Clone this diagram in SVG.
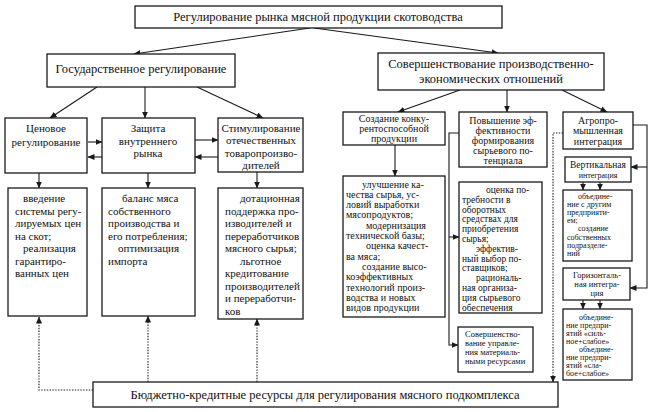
<svg xmlns="http://www.w3.org/2000/svg" width="652" height="412" viewBox="0 0 652 412">
<style>
.box{fill:#fff;stroke:#1a1a1a;stroke-width:1.3}
.ln{fill:none;stroke:#1a1a1a;stroke-width:1.1}
.dot{fill:none;stroke:#1a1a1a;stroke-width:1.1;stroke-dasharray:1.4,1.4}
text{font-family:"Liberation Serif","Times New Roman",serif;fill:#111}
.t12{font-size:12.5px}
.t11{font-size:11px}
.t10{font-size:10px}
.t95{font-size:9.5px}
.t9{font-size:9px}
.t85{font-size:8.5px}
.t8{font-size:8px}
.c{text-anchor:middle}
</style>
<defs>
<marker id="ar" markerWidth="7" markerHeight="6" refX="6.5" refY="3" orient="auto" markerUnits="userSpaceOnUse">
<path d="M0,0 L7,3 L0,6 Z" fill="#1a1a1a"/>
</marker>
</defs>
<rect width="652" height="412" fill="#fff"/>
<g font-family="Liberation Serif, Times New Roman, serif">

<g id="connectors">
<line class="ln" x1="310" y1="28" x2="134" y2="54" marker-end="url(#ar)"/>
<line class="ln" x1="314" y1="28" x2="498" y2="53" marker-end="url(#ar)"/>
<line class="ln" x1="97" y1="87" x2="50" y2="118" marker-end="url(#ar)"/>
<line class="ln" x1="145" y1="87" x2="145" y2="118" marker-end="url(#ar)"/>
<line class="ln" x1="197" y1="87" x2="263" y2="118" marker-end="url(#ar)"/>
<line class="ln" x1="88" y1="142" x2="102" y2="142" marker-end="url(#ar)"/>
<line class="ln" x1="102" y1="157" x2="88" y2="157" marker-end="url(#ar)"/>
<line class="ln" x1="195" y1="140" x2="218" y2="140" marker-end="url(#ar)"/>
<line class="ln" x1="218" y1="157" x2="195" y2="157" marker-end="url(#ar)"/>
<line class="ln" x1="39" y1="173" x2="39" y2="188" marker-end="url(#ar)"/>
<line class="ln" x1="148" y1="173" x2="148" y2="188" marker-end="url(#ar)"/>
<line class="ln" x1="257" y1="172" x2="257" y2="188" marker-end="url(#ar)"/>
<path class="dot" d="M93,390 H39 V317" marker-end="url(#ar)"/>
<line class="dot" x1="148" y1="382" x2="148" y2="316" marker-end="url(#ar)"/>
<line class="dot" x1="257" y1="382" x2="257" y2="319" marker-end="url(#ar)"/>
<line class="ln" x1="460" y1="90" x2="398" y2="112" marker-end="url(#ar)"/>
<line class="ln" x1="507" y1="90" x2="507" y2="112" marker-end="url(#ar)"/>
<line class="ln" x1="562" y1="90" x2="607" y2="112" marker-end="url(#ar)"/>
<line class="ln" x1="395" y1="145" x2="395" y2="176" marker-end="url(#ar)"/>
<path class="ln" d="M459,133 H449 V345 H458" marker-end="url(#ar)"/>
<line class="ln" x1="449" y1="237" x2="459" y2="237" marker-end="url(#ar)"/>
<path class="dot" d="M563,133 H553 V382" marker-end="url(#ar)"/>
<path class="ln" d="M633,125 H647 V288 H630" marker-end="url(#ar)"/>
<line class="ln" x1="647" y1="167" x2="631" y2="167" marker-end="url(#ar)"/>
<line class="ln" x1="583" y1="182" x2="583" y2="190" marker-end="url(#ar)"/>
<line class="ln" x1="600" y1="182" x2="600" y2="190" marker-end="url(#ar)"/>
<line class="ln" x1="583" y1="300" x2="583" y2="309" marker-end="url(#ar)"/>
<line class="ln" x1="600" y1="300" x2="600" y2="309" marker-end="url(#ar)"/>
</g>

<g id="title">
<rect class="box" x="135" y="6" width="367" height="22"/>
<text class="t12 c" x="318" y="21">Регулирование рынка мясной продукции скотоводства</text>
</g>

<g id="gov">
<rect class="box" x="47" y="54" width="188" height="33"/>
<text class="t12 c" x="141" y="73">Государственное регулирование</text>
</g>

<g id="sov">
<rect class="box" x="378" y="53" width="226" height="37"/>
<text class="t12 c" x="491" y="68">Совершенствование производственно-</text>
<text class="t12 c" x="491" y="83">экономических отношений</text>
</g>

<g id="price">
<rect class="box" x="5" y="118" width="82" height="55"/>
<text class="t11 c" x="46" y="132">Ценовое</text>
<text class="t11 c" x="46" y="146">регулирование</text>
</g>

<g id="protect">
<rect class="box" x="102" y="118" width="93" height="55"/>
<text class="t11 c" x="148" y="132">Защита</text>
<text class="t11 c" x="148" y="144.5">внутреннего</text>
<text class="t11 c" x="148" y="157">рынка</text>
</g>

<g id="stim">
<rect class="box" x="218" y="118" width="85" height="54"/>
<text class="t11 c" x="261" y="131.5">Стимулирование</text>
<text class="t11 c" x="261" y="144">отечественных</text>
<text class="t11 c" x="261" y="156.5">товаропроизво-</text>
<text class="t11 c" x="261" y="169">дителей</text>
</g>

<g id="price-detail">
<rect class="box" x="8" y="188" width="79" height="128"/>
<text class="t11" x="23" y="202">введение</text>
<text class="t11" x="15" y="214.5">системы регу-</text>
<text class="t11" x="15" y="227">лируемых цен</text>
<text class="t11" x="15" y="239.5">на скот;</text>
<text class="t11" x="23" y="252">реализация</text>
<text class="t11" x="15" y="264.5">гарантиро-</text>
<text class="t11" x="15" y="277">ванных цен</text>
</g>

<g id="protect-detail">
<rect class="box" x="102" y="188" width="93" height="128"/>
<text class="t11" x="122" y="202">баланс мяса</text>
<text class="t11" x="108" y="214.5">собственного</text>
<text class="t11" x="108" y="227">производства и</text>
<text class="t11" x="108" y="239.5">его потребления;</text>
<text class="t11" x="118" y="252">оптимизация</text>
<text class="t11" x="108" y="264.5">импорта</text>
</g>

<g id="stim-detail">
<rect class="box" x="218" y="188" width="85" height="131"/>
<text class="t11" x="240" y="202">дотационная</text>
<text class="t11" x="225" y="214.5">поддержка про-</text>
<text class="t11" x="225" y="227">изводителей и</text>
<text class="t11" x="225" y="239.5">переработчиков</text>
<text class="t11" x="225" y="252">мясного сырья;</text>
<text class="t11" x="240" y="264.5">льготное</text>
<text class="t11" x="225" y="277">кредитование</text>
<text class="t11" x="225" y="289.5">производителей</text>
<text class="t11" x="225" y="302">и переработчи-</text>
<text class="t11" x="225" y="314.5">ков</text>
</g>

<g id="create">
<rect class="box" x="343" y="112" width="102" height="33"/>
<text class="t10 c" x="394" y="122">Создание конку-</text>
<text class="t10 c" x="394" y="132">рентоспособной</text>
<text class="t10 c" x="394" y="142">продукции</text>
</g>

<g id="create-detail">
<rect class="box" x="343" y="176" width="102" height="141"/>
<text class="t10" x="362" y="187.5">улучшение ка-</text>
<text class="t10" x="346" y="197.8">чества сырья, ус-</text>
<text class="t10" x="346" y="208.1">ловий выработки</text>
<text class="t10" x="346" y="218.4">мясопродуктов;</text>
<text class="t10" x="366" y="228.7">модернизация</text>
<text class="t10" x="346" y="239">технической базы;</text>
<text class="t10" x="366" y="249.3">оценка качест-</text>
<text class="t10" x="346" y="259.6">ва мяса;</text>
<text class="t10" x="362" y="269.9">создание высо-</text>
<text class="t10" x="346" y="280.2">коэффективных</text>
<text class="t10" x="346" y="290.5">технологий произ-</text>
<text class="t10" x="346" y="300.8">водства и новых</text>
<text class="t10" x="346" y="311.1">видов продукции</text>
</g>

<g id="raise">
<rect class="box" x="459" y="112" width="88" height="55"/>
<text class="t10 c" x="503" y="123.5">Повышение эф-</text>
<text class="t10 c" x="503" y="133.5">фективности</text>
<text class="t10 c" x="503" y="143.5">формирования</text>
<text class="t10 c" x="503" y="153.5">сырьевого по-</text>
<text class="t10 c" x="503" y="163.5">тенциала</text>
</g>

<g id="raise-detail">
<rect class="box" x="459" y="182" width="83" height="131"/>
<text class="t95" x="486" y="193">оценка по-</text>
<text class="t95" x="462" y="202.8">требности в</text>
<text class="t95" x="462" y="212.6">оборотных</text>
<text class="t95" x="462" y="222.4">средствах для</text>
<text class="t95" x="462" y="232.2">приобретения</text>
<text class="t95" x="462" y="242">сырья;</text>
<text class="t95" x="476" y="251.8">эффектив-</text>
<text class="t95" x="462" y="261.6">ный выбор по-</text>
<text class="t95" x="462" y="271.4">ставщиков;</text>
<text class="t95" x="476" y="281.2">рациональ-</text>
<text class="t95" x="462" y="291">ная организа-</text>
<text class="t95" x="462" y="300.8">ция сырьевого</text>
<text class="t95" x="462" y="310.6">обеспечения</text>
</g>

<g id="material">
<rect class="box" x="458" y="327" width="75" height="45"/>
<text class="t85" x="465" y="337">Совершенство-</text>
<text class="t85" x="465" y="346">вание управле-</text>
<text class="t85" x="465" y="355">ния материаль-</text>
<text class="t85" x="465" y="364">ными ресурсами</text>
</g>

<g id="agro">
<rect class="box" x="563" y="112" width="70" height="37"/>
<text class="t10 c" x="598" y="123.5">Агропро-</text>
<text class="t10 c" x="598" y="134">мышленная</text>
<text class="t10 c" x="598" y="144.5">интеграция</text>
</g>

<g id="vertical">
<rect class="box" x="565" y="157" width="66" height="25"/>
<text class="t95 c" x="598" y="168">Вертикальная</text>
<text class="t8 c" x="598" y="177.5">интеграция</text>
</g>

<g id="vertical-detail">
<rect class="box" x="563" y="190" width="69" height="71"/>
<text class="t8" x="578" y="198.5">объедине-</text>
<text class="t8" x="567" y="206.7">ние с другим</text>
<text class="t8" x="567" y="214.9">предприяти-</text>
<text class="t8" x="567" y="223.1">ем;</text>
<text class="t8" x="578" y="231.3">создание</text>
<text class="t8" x="567" y="239.5">собственных</text>
<text class="t8" x="567" y="247.7">подразделе-</text>
<text class="t8" x="567" y="255.9">ний</text>
</g>

<g id="horizontal">
<rect class="box" x="563" y="268" width="67" height="32"/>
<text class="t85 c" x="597" y="278">Горизонталь-</text>
<text class="t85 c" x="597" y="287">ная интегра-</text>
<text class="t85 c" x="597" y="296">ция</text>
</g>

<g id="horizontal-detail">
<rect class="box" x="563" y="309" width="69" height="71"/>
<text class="t8" x="579" y="319.5">объедине-</text>
<text class="t8" x="566" y="327.6">ние предпри-</text>
<text class="t8" x="566" y="335.7">ятий «силь-</text>
<text class="t8" x="566" y="343.8">ное+слабое»</text>
<text class="t8" x="579" y="351.9">объедине-</text>
<text class="t8" x="566" y="360">ние предпри-</text>
<text class="t8" x="566" y="368.1">ятий «сла-</text>
<text class="t8" x="566" y="376.2">бое+слабое»</text>
</g>

<g id="budget">
<rect class="box" x="93" y="382" width="465" height="25"/>
<text class="t12 c" x="325" y="399">Бюджетно-кредитные ресурсы для регулирования мясного подкомплекса</text>
</g>
</g>
</svg>
